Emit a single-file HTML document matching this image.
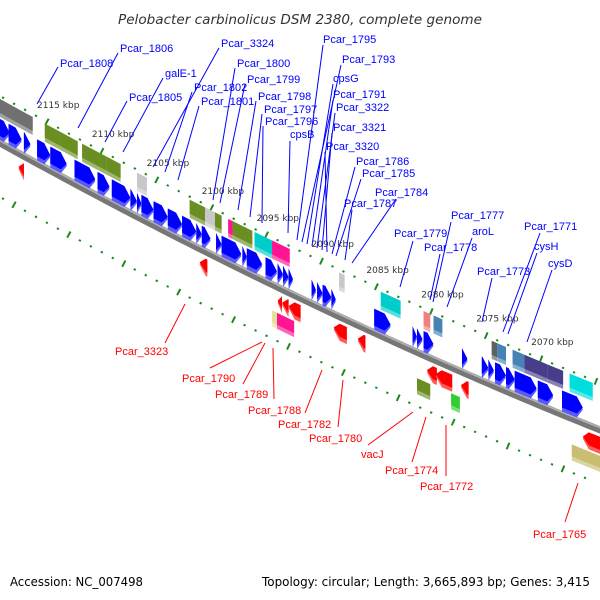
<!DOCTYPE html>
<html><head><meta charset="utf-8"><style>
html,body{margin:0;padding:0;background:#fff;}
svg{display:block;}
</style></head><body>
<svg id="chart" width="600" height="600" viewBox="0 0 600 600" xmlns="http://www.w3.org/2000/svg">
<text x="300" y="24" text-anchor="middle" font-family="DejaVu Sans, sans-serif" font-style="italic" font-size="13" fill="#333" textLength="364" lengthAdjust="spacingAndGlyphs">Pelobacter carbinolicus DSM 2380, complete genome</text>
<g id="tracks"></g>
<g id="feats"></g>
<g id="labels"></g>
<text x="10" y="586" font-family="DejaVu Sans, sans-serif" font-size="12" fill="#000" textLength="133" lengthAdjust="spacingAndGlyphs">Accession: NC_007498</text>
<text x="590" y="586" text-anchor="end" font-family="DejaVu Sans, sans-serif" font-size="12" fill="#000" textLength="328" lengthAdjust="spacingAndGlyphs">Topology: circular; Length: 3,665,893 bp; Genes: 3,415</text>
</svg>
<script>
// tick labels (kbp)
const tickKbp = [2115,2110,2105,2100,2095,2090,2085,2080,2075,2070];
// forward strand genes (blue arrows) [start,end] kbp
const fwdGenes = [[2119.9,2118.4],[2118.5,2117.3],[2117.1,2116.5],[2115.9,2114.7],[2114.7,2113.2],[2112.5,2110.6],[2110.4,2109.3],[2109.1,2107.4],[2107.4,2106.8],[2106.8,2106.4],[2106.4,2105.3],[2105.3,2104.0],[2104.0,2102.7],[2102.7,2101.4],[2101.4,2100.9],[2100.9,2100.1],[2099.6,2099.1],[2099.1,2097.3],[2097.2,2096.8],[2096.8,2095.4],[2095.1,2094.05],[2094.0,2093.5],[2093.5,2093.0],[2093.0,2092.6],[2090.9,2090.5],[2090.4,2089.9],[2089.9,2089.1],[2089.1,2088.7],[2085.2,2083.7],[2081.7,2081.3],[2081.3,2080.8],[2080.7,2079.8],[2077.2,2076.7],[2075.4,2074.8],[2074.8,2074.3],[2074.2,2073.2],[2073.2,2072.4],[2072.4,2070.4],[2070.3,2068.9],[2068.1,2066.2]];
// upper row boxes [start,end,color]
const fwdBoxes = [[2119.9,2117.6,'#707070'],[2117.6,2116.3,'#707070'],[2115.2,2113.9,'#6b8e23'],[2113.9,2112.2,'#6b8e23'],[2111.8,2109.6,'#6b8e23'],[2109.6,2108.3,'#6b8e23'],[2106.8,2105.9,'#c8c8c8'],[2102.0,2100.6,'#6b8e23'],[2100.6,2099.7,'#c8c8c8'],[2099.7,2099.1,'#6b8e23'],[2098.5,2098.1,'#ff1493'],[2098.1,2096.3,'#6b8e23'],[2096.1,2094.4,'#00cccc'],[2094.5,2092.9,'#ff1493'],[2088.4,2087.9,'#c8c8c8'],[2084.6,2082.8,'#00cccc'],[2080.7,2080.1,'#f08080'],[2079.8,2079.0,'#4682b4'],[2074.5,2074.0,'#606060'],[2074.0,2073.2,'#4682b4'],[2072.6,2071.5,'#4682b4'],[2071.5,2069.4,'#483d8b'],[2069.4,2068.0,'#483d8b'],[2067.4,2065.3,'#00dddd']];
// reverse strand genes (red arrows)
const revGenes = [[2117.6,2117.1],[2101.1,2100.4],[2094.0,2093.6],[2093.6,2093.0],[2093.0,2091.9],[2088.9,2087.7],[2086.7,2086.0],[2080.4,2079.5],[2079.6,2078.1],[2077.3,2076.6],[2066.2,2064.0]];
// lower row boxes
const revBoxes = [[2094.5,2094.05,'#e8e09a'],[2094.05,2092.5,'#ff1493'],[2081.3,2080.1,'#6b8e23'],[2078.2,2077.4,'#32cd32'],[2067.2,2064.0,'#c8bd70']];
// labels: [text, labelX, labelY, lineStartX, lineStartY, endX, endY]
const fwdLabels = [["Pcar_1808",60,67,58,67,37,104],["Pcar_1806",120,52,118,53,78,128],["galE-1",165,77,163,78,123,152],["Pcar_1805",129,101,127,101,105,142],["Pcar_3324",221,47,219,48,153,167],["Pcar_1800",237,67,235,68,213,200],["Pcar_1802",194,91,192,92,165,172],["Pcar_1799",247,83,245,84,220,203],["Pcar_1801",201,105,199,106,178,180],["Pcar_1798",258,100,256,101,238,210],["Pcar_1797",264,113,262,114,250,217],["Pcar_1796",265,125,263,126,262,223],["cpsB",290,138,290,141,288,233],["Pcar_1795",323,43,323,45,297,240],["Pcar_1793",342,63,341,65,302,242],["cpsG",333,82,333,84,307,244],["Pcar_1791",333,98,333,100,312,246],["Pcar_3322",336,111,335,113,317,248],["Pcar_3321",333,131,332,133,322,250],["Pcar_3320",326,150,325,152,327,252],["Pcar_1786",356,165,355,167,332,254],["Pcar_1785",362,177,361,179,336,256],["Pcar_1787",344,207,352,210,345,260],["Pcar_1784",375,196,396,199,352,263],["Pcar_1779",394,237,413,241,400,287],["Pcar_1777",451,219,451,222,433,302],["aroL",472,235,472,238,447,307],["Pcar_1778",424,251,440,254,430,300],["Pcar_1773",477,275,492,278,482,322],["Pcar_1771",524,230,540,233,503,332],["cysH",534,250,537,253,508,334],["cysD",548,267,552,270,527,342]];
const revLabels = [["Pcar_3323",115,355,165,343,185,304],["Pcar_1790",182,382,210,368,262,342],["Pcar_1789",215,398,243,384,265,343],["Pcar_1788",248,414,274,399,273,348],["Pcar_1782",278,428,305,413,322,370],["Pcar_1780",309,442,338,427,343,380],["vacJ",361,458,368,445,413,412],["Pcar_1774",385,474,412,462,426,417],["Pcar_1772",420,490,446,476,446,425],["Pcar_1765",533,538,565,522,578,483]];

const NS='http://www.w3.org/2000/svg';
function xOf(k){return 47+(2115-k)*10.98;}
function B(x){return 143+0.555*x-0.000128*x*x;}
function slope(x){return 0.555-0.000256*x;}
function mk(tag,attrs,parent){const e=document.createElementNS(NS,tag);for(const k in attrs)e.setAttribute(k,attrs[k]);parent.appendChild(e);return e;}
function lighten(c,f){const n=parseInt(c.slice(1),16);let r=n>>16,g=(n>>8)&255,b=n&255;r=Math.round(r+(255-r)*f);g=Math.round(g+(255-g)*f);b=Math.round(b+(255-b)*f);return 'rgb('+r+','+g+','+b+')';}
const tracks=document.getElementById('tracks'),feats=document.getElementById('feats'),labs=document.getElementById('labels');

// backbone
let d='',d2='';for(let x=-5;x<=605;x+=5){d+=(x<0?'M':'L')+x+' '+B(x).toFixed(1)+' ';d2+=(x<0?'M':'L')+x+' '+(B(x)-2.5).toFixed(1)+' ';}
const bb=mk('path',{d:d,stroke:'#777',"stroke-width":7,fill:'none'},tracks);


const bh=mk('path',{d:d2,stroke:'#b0b0b0',"stroke-width":2,fill:'none'},tracks);



// dotted scale tracks
function mark(x,off,big,name){const y=B(x)+off;const s=slope(x);const L=Math.sqrt(1+s*s);const px=s/L,py=-1/L;const h=big?3.5:1;
 const e=mk('line',{x1:(x-px*h).toFixed(1),y1:(y-py*h).toFixed(1),x2:(x+px*h).toFixed(1),y2:(y+py*h).toFixed(1),stroke:'#1a8a1a',"stroke-width":big?2:2.2},tracks);
 
 }
for(let k=2121;k>=2062;k--){const x=xOf(k);if(x<-5||x>605)continue;mark(x,-47,k%5===0,'scale-tick-upper');}
for(let k=2121;k>=2062;k--){const x=xOf(k)-44;if(x<-5||x>605)continue;mark(x,54,k%5===4,'scale-tick-lower');}
tickKbp.forEach(k=>{const x=xOf(k);const t=mk('text',{x:x-10,y:(B(x)-61).toFixed(1),"font-family":"DejaVu Sans, sans-serif","font-size":9,fill:'#333'},tracks);t.textContent=k+' kbp';
 
 });

function shape(k0,k1,o0,o1,dir,color,name){
 const x0=xOf(k0),x1=xOf(k1);const w=x1-x0;const h=dir===0?0:Math.min(6,w);
 function pts(a,b){const m=(a+b)/2;let p=[];
  if(dir>=0){p=[[x0,a],[x1-h,a],[x1,m],[x1-h,b],[x0,b]];}
  else{p=[[x0,m],[x0+h,a],[x1,a],[x1,b],[x0+h,b]];}
  if(dir===0)p=[[x0,a],[x1,a],[x1,b],[x0,b]];
  return p.map(q=>q[0].toFixed(1)+','+(B(q[0])+q[1]).toFixed(1)).join(' ');}
 const g=mk('g',{},feats);
 
 
 mk('polygon',{points:pts(o0,o1),fill:lighten(color,0.35)},g);
 mk('polygon',{points:pts(o0,o1-4),fill:color},g);
}
fwdBoxes.forEach(b=>shape(b[0],b[1],-44,-26,0,b[2],'gene-box-forward'));
fwdGenes.forEach(b=>shape(b[0],b[1],-24,-3,1,'#0000ff','gene-forward'));
revGenes.forEach(b=>shape(b[0],b[1],7,24,-1,'#ff0000','gene-reverse'));
revBoxes.forEach(b=>shape(b[0],b[1],26,42,0,b[2],'gene-box-reverse'));

function label(L,color,name){
 const ln=mk('line',{x1:L[3],y1:L[4],x2:L[5],y2:L[6],stroke:color,"stroke-width":1},labs);
 
 
 const t=mk('text',{x:L[1],y:L[2],"font-family":"Liberation Sans, sans-serif","font-size":11,fill:color},labs);
 t.textContent=L[0];
 
 
}
fwdLabels.forEach(L=>label(L,'#0000ff','gene-label-forward'));
revLabels.forEach(L=>label(L,'#ff0000','gene-label-reverse'));
</script>
</body></html>
